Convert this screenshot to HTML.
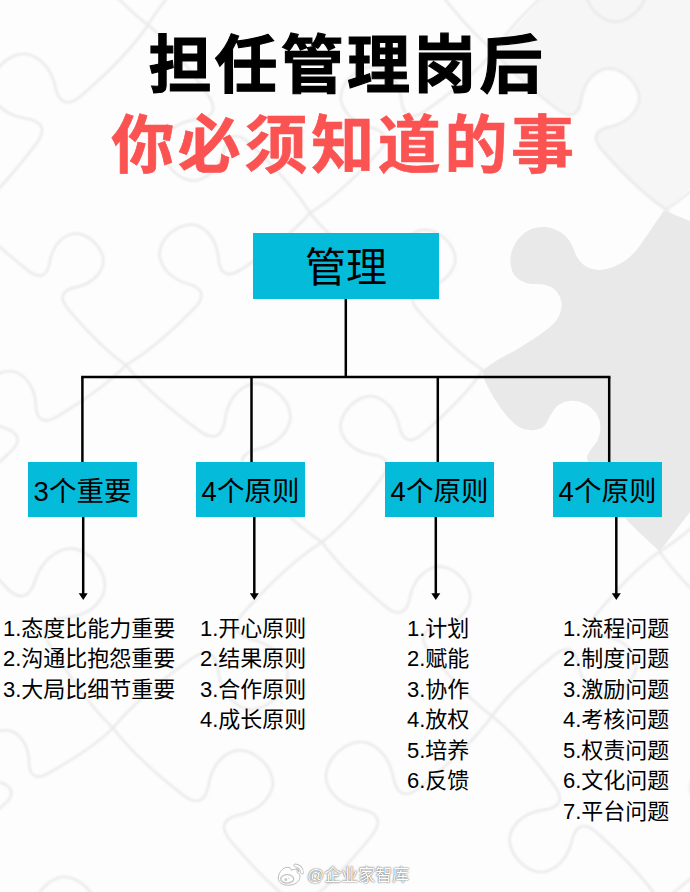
<!DOCTYPE html>
<html lang="zh-CN">
<head>
<meta charset="utf-8">
<title>担任管理岗后你必须知道的事</title>
<style>
html,body{margin:0;padding:0;}
body{width:690px;height:892px;position:relative;overflow:hidden;background:#fdfdfd;
  font-family:"Liberation Sans","Noto Sans CJK SC",sans-serif;color:#000;}
#bg{position:absolute;left:0;top:0;width:690px;height:892px;}
.t{position:absolute;white-space:nowrap;line-height:1;}
.title{font-weight:700;font-size:63px;letter-spacing:3.2px;left:0;width:690px;text-align:center;}
#t1{top:34px;color:#000;left:2px;-webkit-text-stroke:1.1px #000;}
#t2{top:114px;color:#fb5252;left:-0.5px;letter-spacing:3.65px;-webkit-text-stroke:0.7px #fb5252;}
.box{position:absolute;background:#05bbda;display:flex;align-items:center;justify-content:center;
  white-space:nowrap;}
#root{left:253px;top:233px;width:186px;height:66px;font-size:41px;padding-bottom:4px;box-sizing:border-box;}
.b{top:462.2px;height:55px;width:109px;font-size:27.5px;padding-bottom:2px;box-sizing:border-box;}
#b1{left:28px;}#b2{left:196px;}#b3{left:385px;}#b4{left:553px;}
.list{position:absolute;top:613.7px;font-size:22px;line-height:30.5px;white-space:nowrap;}
#l1{left:3px;}#l2{left:200px;}#l3{left:407px;}#l4{left:563px;}
#wm{left:307px;top:867px;font-size:17px;color:#fff;text-shadow:0 0 2px rgba(0,0,0,.55),0 0 1px rgba(0,0,0,.5);}
</style>
</head>
<body>
<svg id="bg" viewBox="0 0 690 892">
  <rect width="690" height="892" fill="#fdfdfd"/>
  <!-- grey puzzle piece -->
  <path id="cell2" fill="#f6f6f6" d="M494.0,51.0 C511.5,73.5 537.1,93.9 555.9,108.1 C570.5,119.9 577.7,115.4 580.6,103.7 C582.4,87.9 589.3,75.2 602.4,69.7 C619.5,63.3 643.6,85.4 638.5,103.0 C634.1,116.5 622.0,124.4 606.4,127.5 C594.9,131.3 591.1,138.9 604.1,152.4 C619.7,170.0 642.2,193.9 666.0,209.5 L845.0,50.0 L666.0,-136.0 Z"/>
  <path id="piece" fill="#e9e9e9" d="M700,225 L664.0,210.4 C661.7,213.7 655.2,223.3 650.4,230.2 C645.6,237.0 640.3,245.9 635.2,251.5 C630.1,257.1 625.6,260.6 620.0,263.7 C614.4,266.8 607.3,269.3 601.7,269.8 C596.1,270.3 590.5,268.7 586.5,266.7 C582.5,264.7 579.9,261.4 577.4,257.6 C574.9,253.8 573.8,248.0 571.3,243.9 C568.8,239.8 566.2,236.1 562.2,233.3 C558.2,230.5 552.6,227.7 547.0,227.2 C541.4,226.7 534.0,227.4 528.7,230.2 C523.4,233.0 518.0,238.8 515.0,243.9 C511.9,249.0 510.4,255.3 510.4,260.6 C510.4,265.9 511.9,272.1 515.0,275.9 C518.0,279.7 523.6,282.0 528.7,283.5 C533.8,285.0 540.8,283.7 545.4,285.0 C550.0,286.3 553.4,288.0 556.1,291.1 C558.8,294.2 561.4,299.2 561.6,303.8 C561.9,308.4 560.3,314.0 557.6,318.5 C554.9,323.0 551.2,326.0 545.4,330.6 C539.6,335.2 530.5,341.1 522.6,345.9 C514.8,350.7 504.9,355.6 498.3,359.6 C491.7,363.7 485.6,368.4 483.0,370.2 C483.3,371.8 482.6,375.1 484.6,380.0 C486.6,384.9 491.4,393.7 495.2,399.8 C499.0,405.9 503.3,411.9 507.4,416.5 C511.5,421.1 515.3,424.9 519.6,427.2 C523.9,429.5 529.2,430.3 533.3,430.2 C537.3,430.1 541.0,428.8 543.9,426.3 C546.8,423.8 548.2,418.6 550.6,415.0 C553.0,411.4 555.0,407.4 558.5,405.0 C562.0,402.6 566.9,400.9 571.3,400.7 C575.7,400.5 580.8,401.6 585.0,403.7 C589.2,405.8 593.7,409.6 596.3,413.5 C598.9,417.4 600.4,422.6 600.5,427.2 C600.6,431.8 599.0,436.8 597.2,440.9 C595.4,444.9 591.1,448.1 589.6,451.5 C588.1,454.9 585.9,455.2 588.0,461.6 C590.1,468.0 595.7,480.4 602.0,490.0 C608.3,499.6 619.2,511.3 626.0,519.0 C632.8,526.7 637.4,530.6 643.0,536.0 C648.6,541.4 656.8,548.8 659.6,551.4 L700,499 Z"/>
  <defs><filter id="soft2"><feGaussianBlur stdDeviation="0.35"/></filter><filter id="soft" x="-5%" y="-5%" width="110%" height="110%"><feGaussianBlur stdDeviation="0.9"/></filter></defs>
  <path id="grid" fill="none" stroke="#e9e9e9" stroke-width="2.4" stroke-linecap="round" filter="url(#soft)" d="M-241.0,1010.0 C-222.5,987.2 -195.5,966.6 -175.8,952.4 C-160.6,940.5 -153.2,945.2 -150.5,957.4 C-148.9,973.7 -142.0,987.0 -128.7,993.0 C-111.2,1000.0 -85.8,977.6 -90.7,959.4 C-95.0,945.4 -107.3,936.9 -123.3,933.4 C-135.0,929.2 -138.8,921.3 -125.2,907.6 C-108.7,889.8 -84.9,865.6 -60.0,850.0 M-239.0,664.0 C-220.5,641.2 -193.5,620.6 -173.8,606.4 C-158.6,594.5 -151.2,599.2 -148.5,611.4 C-146.9,627.7 -140.0,641.0 -126.7,647.0 C-109.2,654.0 -83.8,631.6 -88.7,613.4 C-93.0,599.4 -105.3,590.9 -121.3,587.4 C-133.0,583.2 -136.8,575.3 -123.2,561.6 C-106.7,543.8 -82.9,519.6 -58.0,504.0 M-239.0,664.0 C-213.8,682.7 -190.6,710.6 -174.6,731.0 C-161.2,746.7 -165.9,754.9 -178.7,758.3 C-196.1,760.7 -210.0,768.6 -215.7,783.1 C-222.5,802.2 -197.4,828.2 -178.1,822.2 C-163.4,817.0 -155.0,803.5 -151.9,786.2 C-148.0,773.5 -139.7,769.1 -124.4,783.0 C-104.7,799.9 -77.8,824.1 -60.0,850.0 M-60.0,850.0 C-36.8,838.8 -13.8,820.0 2.3,806.1 C15.5,795.5 13.0,788.2 3.2,783.4 C-10.5,778.8 -20.4,770.3 -22.8,757.7 C-25.3,741.3 -1.0,724.2 13.6,732.1 C24.6,738.5 29.3,750.8 29.1,765.1 C30.3,776.0 36.3,780.8 50.7,771.9 C69.2,761.5 94.7,746.1 113.0,728.0 M-60.0,850.0 C-42.2,875.9 -15.3,900.1 4.4,917.0 C19.7,930.9 28.0,926.5 31.9,913.8 C35.0,896.5 43.4,883.0 58.1,877.8 C77.4,871.8 102.5,897.8 95.7,916.9 C90.0,931.4 76.1,939.3 58.7,941.7 C45.9,945.1 41.2,953.3 54.6,969.0 C70.6,989.4 93.8,1017.3 119.0,1036.0 M119.0,1036.0 C138.2,1017.0 164.8,1000.9 184.2,989.9 C199.3,980.6 205.6,985.6 206.8,997.0 C206.6,1012.1 211.6,1024.8 223.1,1031.6 C238.4,1039.8 263.8,1021.9 261.1,1004.7 C258.6,991.6 248.2,982.6 234.0,977.8 C223.7,972.8 221.0,965.2 234.8,954.1 C251.7,939.5 275.7,919.7 300.0,908.0 M-237.0,318.0 C-214.2,301.5 -184.2,289.2 -162.5,280.9 C-145.4,273.7 -139.7,279.9 -140.3,291.8 C-142.9,307.3 -139.8,321.3 -129.0,330.1 C-114.5,341.0 -85.5,326.6 -85.5,308.5 C-86.0,294.5 -95.3,283.6 -109.2,276.4 C-119.0,269.6 -120.6,261.4 -104.5,252.1 C-84.8,239.7 -56.9,223.2 -30.0,215.0 M-237.0,318.0 C-211.8,336.7 -188.6,364.6 -172.6,385.0 C-159.2,400.7 -163.9,408.9 -176.7,412.3 C-194.1,414.7 -208.0,422.6 -213.7,437.1 C-220.5,456.2 -195.4,482.2 -176.1,476.2 C-161.4,471.0 -153.0,457.4 -149.9,440.2 C-146.0,427.5 -137.7,423.1 -122.4,437.0 C-102.7,453.8 -75.8,478.1 -58.0,504.0 M-58.0,504.0 C-33.1,491.0 -8.8,469.7 8.2,454.0 C22.3,441.9 19.2,434.1 8.4,429.3 C-6.6,424.7 -17.7,415.8 -20.8,402.2 C-24.1,384.4 1.7,365.0 17.9,373.0 C30.1,379.6 35.7,392.8 36.0,408.4 C37.6,420.2 44.3,425.2 59.8,415.0 C79.5,403.0 106.7,385.4 126.0,365.0 M-58.0,504.0 C-42.0,534.3 -15.8,564.0 3.6,584.6 C18.4,601.7 27.9,598.0 33.7,584.7 C39.2,566.3 50.1,552.7 66.7,548.9 C88.3,544.7 112.3,576.1 102.6,595.9 C94.5,610.9 78.5,617.8 59.4,618.3 C45.0,620.4 38.9,628.6 51.4,647.4 C66.3,671.5 88.0,704.5 113.0,728.0 M113.0,728.0 C134.4,701.5 165.5,677.5 188.2,661.0 C205.9,647.2 214.5,652.7 217.6,666.7 C219.5,685.6 227.5,701.0 243.0,707.8 C263.3,715.9 292.6,689.9 286.9,668.8 C281.9,652.6 267.6,642.9 249.0,638.8 C235.4,634.1 231.0,624.9 246.8,609.0 C265.8,588.3 293.2,560.1 322.0,542.0 M113.0,728.0 C131.8,753.3 159.8,776.7 180.3,792.8 C196.2,806.3 204.3,801.5 207.8,788.6 C210.2,771.1 218.2,757.2 232.8,751.4 C251.9,744.6 278.1,769.8 272.0,789.2 C266.8,804.0 253.2,812.5 235.8,815.6 C223.1,819.5 218.6,827.9 232.7,843.2 C249.6,863.1 274.0,890.1 300.0,908.0 M300.0,908.0 C326.9,888.8 351.8,860.0 369.1,838.9 C383.5,822.6 378.7,813.9 365.3,810.1 C347.0,807.2 332.6,798.6 326.9,783.2 C320.2,763.0 347.0,736.2 367.2,742.9 C382.6,748.6 391.2,763.0 394.1,781.3 C397.9,794.7 406.6,799.5 422.9,785.1 C444.0,767.8 472.8,742.9 492.0,716.0 M300.0,908.0 C318.4,930.1 345.0,949.8 364.4,963.4 C379.5,974.9 386.7,970.1 389.2,958.2 C390.5,942.2 397.0,929.2 410.0,923.2 C427.0,916.0 452.1,937.6 447.6,955.5 C443.6,969.2 431.6,977.7 416.0,981.3 C404.6,985.5 401.0,993.3 414.6,1006.6 C430.9,1023.8 454.4,1047.1 479.0,1062.0 M479.0,1062.0 C497.5,1039.2 524.5,1018.6 544.2,1004.4 C559.4,992.5 566.9,997.2 569.5,1009.4 C571.1,1025.7 578.0,1039.0 591.3,1045.0 C608.8,1052.0 634.2,1029.6 629.3,1011.4 C625.0,997.4 612.7,988.9 596.7,985.4 C584.9,981.2 581.2,973.3 594.8,959.6 C611.3,941.8 635.1,917.6 660.0,902.0 M-235.0,-28.0 C-216.5,-50.8 -189.5,-71.4 -169.8,-85.6 C-154.6,-97.5 -147.2,-92.8 -144.5,-80.6 C-142.9,-64.3 -136.0,-51.0 -122.7,-45.0 C-105.2,-38.0 -79.8,-60.4 -84.7,-78.6 C-89.0,-92.6 -101.3,-101.1 -117.3,-104.6 C-129.0,-108.8 -132.8,-116.7 -119.2,-130.4 C-102.7,-148.2 -78.9,-172.4 -54.0,-188.0 M-235.0,-28.0 C-205.5,-2.9 -179.3,33.1 -161.2,59.5 C-146.0,79.9 -152.5,89.6 -168.5,92.7 C-190.1,94.3 -207.8,102.9 -216.0,120.3 C-225.8,143.1 -197.1,177.1 -172.9,171.3 C-154.4,166.1 -142.9,150.1 -137.8,129.2 C-132.0,113.9 -121.4,109.1 -103.8,127.5 C-80.9,149.8 -49.7,181.7 -30.0,215.0 M-30.0,215.0 C-4.8,195.8 18.2,167.4 34.1,146.6 C47.4,130.5 42.5,122.4 29.5,119.1 C11.9,116.9 -2.1,109.1 -8.1,94.6 C-15.2,75.5 9.7,48.9 29.2,54.7 C44.1,59.7 52.9,73.2 56.2,90.6 C60.3,103.4 68.7,107.7 83.9,93.4 C103.6,76.2 130.4,51.4 148.0,25.0 M-30.0,215.0 C-14.3,236.1 9.1,255.6 26.2,269.0 C39.4,280.2 46.2,276.3 49.0,265.5 C51.1,250.9 57.7,239.3 69.9,234.5 C85.8,228.8 107.7,249.8 102.6,266.0 C98.3,278.3 86.9,285.4 72.4,288.0 C61.8,291.3 58.1,298.2 69.8,311.0 C83.9,327.6 104.3,350.1 126.0,365.0 M126.0,365.0 C151.1,350.4 175.4,327.3 192.2,310.3 C206.2,297.2 202.7,289.2 191.3,284.8 C175.6,280.7 163.7,272.0 159.9,258.0 C155.7,239.8 181.5,218.6 198.6,226.1 C211.5,232.4 217.9,245.8 218.9,262.0 C221.1,274.0 228.3,279.0 243.8,267.7 C263.7,254.4 291.0,234.9 310.0,213.0 M126.0,365.0 C146.0,390.2 175.2,413.0 196.6,428.7 C213.1,441.9 221.3,436.8 224.3,423.6 C226.2,405.7 233.9,391.3 248.6,384.9 C267.8,377.4 295.2,402.2 289.7,422.1 C284.9,437.3 271.3,446.4 253.7,450.1 C240.9,454.5 236.6,463.1 251.4,478.3 C269.3,497.9 294.9,524.7 322.0,542.0 M322.0,542.0 C344.8,524.6 365.6,498.9 380.0,480.1 C392.0,465.5 387.6,458.2 375.8,455.2 C359.9,453.2 347.2,446.2 341.7,433.0 C335.3,415.7 357.9,391.6 375.5,396.9 C389.0,401.4 396.9,413.7 400.0,429.4 C403.7,441.0 411.3,444.9 425.0,431.9 C442.9,416.3 467.1,393.9 483.0,370.0 M322.0,542.0 C338.9,566.3 364.5,588.9 383.2,604.6 C397.7,617.7 405.5,613.5 409.0,601.5 C411.8,585.2 419.7,572.4 433.5,567.4 C451.7,561.6 475.4,585.9 469.2,603.9 C463.9,617.6 450.9,625.2 434.5,627.6 C422.5,630.9 418.1,638.6 430.8,653.4 C446.1,672.5 468.1,698.5 492.0,716.0 M492.0,716.0 C508.8,692.9 533.9,671.5 552.3,656.7 C566.6,644.4 574.0,648.6 577.2,660.3 C579.6,676.1 586.9,688.6 600.2,693.7 C617.6,699.7 641.0,676.6 635.4,659.2 C630.5,645.8 618.1,638.2 602.4,635.6 C590.8,632.2 586.7,624.7 599.3,610.7 C614.4,592.5 636.2,567.8 659.6,551.4 M492.0,716.0 C515.9,735.0 537.5,762.7 552.5,783.0 C565.0,798.7 560.2,806.4 547.6,809.3 C530.6,811.1 517.0,818.4 510.9,832.3 C503.8,850.6 527.3,876.6 546.2,871.4 C560.6,866.8 569.3,853.9 572.8,837.2 C577.0,825.0 585.2,821.0 599.5,835.0 C618.2,852.0 643.6,876.3 660.0,902.0 M660.0,902.0 C684.9,886.4 708.7,862.2 725.2,844.4 C738.8,830.7 735.1,822.8 723.3,818.6 C707.3,815.1 695.0,806.6 690.7,792.6 C685.8,774.4 711.2,752.0 728.7,759.0 C742.0,765.0 748.9,778.3 750.5,794.6 C753.1,806.8 760.6,811.5 775.8,799.6 C795.5,785.4 822.5,764.8 841.0,742.0 M660.0,902.0 C677.8,927.9 704.7,952.1 724.4,969.0 C739.7,982.9 748.0,978.5 751.9,965.8 C755.0,948.5 763.4,935.0 778.1,929.8 C797.4,923.8 822.5,949.8 815.7,968.9 C810.0,983.4 796.1,991.3 778.7,993.7 C765.9,997.1 761.2,1005.3 774.6,1021.0 C790.6,1041.4 813.8,1069.3 839.0,1088.0 M-54.0,-188.0 C-34.0,-158.4 -3.6,-130.6 18.7,-111.3 C35.9,-95.3 45.4,-100.2 50.0,-114.6 C53.6,-134.3 63.3,-149.6 80.1,-155.4 C102.1,-162.1 130.4,-132.2 122.5,-110.6 C115.9,-94.2 100.1,-85.3 80.3,-82.7 C65.6,-78.9 60.2,-69.7 75.3,-51.7 C93.3,-28.4 119.5,3.5 148.0,25.0 M148.0,25.0 C163.2,-0.6 187.2,-25.2 204.9,-42.3 C218.5,-56.5 226.6,-52.8 231.0,-41.0 C235.0,-24.9 243.9,-12.6 258.1,-8.6 C276.7,-4.1 298.8,-30.2 291.3,-47.8 C284.9,-61.2 271.4,-67.9 254.7,-69.1 C242.4,-71.5 237.4,-78.9 249.1,-94.7 C263.1,-115.0 283.3,-142.7 306.0,-162.0 M148.0,25.0 C171.2,44.3 192.0,72.3 206.3,92.7 C218.3,108.5 213.4,116.1 200.9,118.7 C184.1,120.1 170.3,127.0 164.1,140.6 C156.6,158.5 179.2,184.8 198.1,180.1 C212.5,175.8 221.3,163.3 225.2,146.9 C229.6,134.9 237.8,131.1 251.7,145.3 C269.8,162.5 294.3,187.2 310.0,213.0 M310.0,213.0 C335.3,197.2 359.5,172.7 376.2,154.7 C390.1,140.8 386.3,132.7 374.4,128.5 C358.2,124.9 345.7,116.3 341.4,102.1 C336.5,83.5 362.2,60.9 380.0,68.1 C393.5,74.1 400.5,87.6 402.0,104.2 C404.7,116.5 412.2,121.4 427.8,109.3 C447.8,95.0 475.2,74.1 494.0,51.0 M310.0,213.0 C327.6,235.3 353.4,255.5 372.3,269.5 C386.9,281.2 394.1,276.7 396.9,265.0 C398.6,249.2 405.4,236.5 418.4,230.9 C435.4,224.3 459.6,246.3 454.7,263.9 C450.4,277.3 438.4,285.3 422.8,288.6 C411.4,292.4 407.7,300.1 420.7,313.5 C436.4,330.9 459.1,354.6 483.0,370.0 M659.6,551.4 C684.7,536.4 708.8,512.8 725.6,495.5 C739.5,482.1 735.9,474.1 724.3,469.8 C708.5,465.9 696.4,457.2 692.4,443.2 C688.0,425.0 713.6,403.2 730.9,410.6 C744.1,416.8 750.6,430.2 751.8,446.5 C754.3,458.6 761.5,463.5 777.0,451.9 C796.9,438.2 824.1,418.3 843.0,396.0 M659.6,551.4 C677.6,577.9 704.9,602.8 724.9,620.0 C740.4,634.4 748.9,629.9 752.9,617.0 C756.1,599.4 764.8,585.6 779.9,580.4 C799.5,574.4 824.9,601.1 818.0,620.5 C812.0,635.2 797.8,643.2 780.1,645.6 C767.0,649.0 762.1,657.2 775.7,673.4 C791.9,694.3 815.4,722.8 841.0,742.0 M306.0,-162.0 C324.3,-132.7 352.8,-104.7 373.7,-85.3 C389.8,-69.2 399.1,-73.7 404.0,-87.5 C408.2,-106.3 418.2,-120.8 434.6,-125.8 C456.1,-131.5 482.4,-101.7 474.1,-81.1 C467.0,-65.4 451.4,-57.3 432.2,-55.5 C417.9,-52.4 412.3,-43.7 426.3,-25.7 C443.0,-2.5 467.2,29.2 494.0,51.0 M494.0,51.0 C510.9,25.1 536.9,0.7 555.9,-16.3 C570.6,-30.4 578.9,-26.3 583.0,-13.9 C586.4,3.1 595.0,16.2 609.6,21.0 C628.7,26.5 652.8,0.3 645.7,-18.3 C639.8,-32.4 626.0,-39.9 608.8,-41.9 C596.1,-45.0 591.3,-52.9 604.1,-68.7 C619.4,-89.1 641.6,-117.0 666.0,-136.0 M494.0,51.0 C511.5,73.5 537.1,93.9 555.9,108.1 C570.5,119.9 577.7,115.4 580.6,103.7 C582.4,87.9 589.3,75.2 602.4,69.7 C619.5,63.3 643.6,85.4 638.5,103.0 C634.1,116.5 622.0,124.4 606.4,127.5 C594.9,131.3 591.1,138.9 604.1,152.4 C619.7,170.0 642.2,193.9 666.0,209.5 M666.0,209.5 C690.7,193.9 714.1,169.8 730.4,152.1 C744.0,138.4 740.2,130.6 728.5,126.5 C712.6,123.0 700.3,114.7 696.0,100.9 C691.1,82.7 716.2,60.4 733.6,67.4 C746.9,73.2 753.8,86.3 755.4,102.6 C758.1,114.6 765.4,119.3 780.6,107.4 C800.1,93.3 826.7,72.7 845.0,50.0 M666.0,209.5 C683.5,235.4 710.2,259.8 729.7,276.6 C744.8,290.7 753.1,286.3 757.1,273.7 C760.3,256.5 768.8,243.1 783.5,238.0 C802.7,232.2 827.5,258.3 820.6,277.2 C814.8,291.6 801.0,299.4 783.6,301.7 C770.8,305.0 766.1,313.1 779.3,328.9 C795.1,349.3 818.0,377.2 843.0,396.0 M666.0,-136.0 C683.8,-110.1 710.7,-85.8 730.4,-69.0 C745.7,-55.1 754.0,-59.5 757.9,-72.2 C761.0,-89.5 769.4,-103.0 784.1,-108.2 C803.4,-114.2 828.5,-88.2 821.7,-69.1 C816.0,-54.6 802.1,-46.7 784.7,-44.3 C771.9,-40.9 767.2,-32.7 780.6,-17.0 C796.6,3.4 819.8,31.3 845.0,50.0"/>
  <!-- weibo watermark logo -->
  <g id="wb" filter="url(#soft2)" stroke-linecap="round" stroke-linejoin="round">
    <path d="M289,867.5 C284,866 278.5,872 278.3,878 C278.2,883 283,885.2 288.5,885.2 C295,885.2 300,881.5 300,876.5 C300,874 298,873 297,872.5 C297.5,871 297.3,869.5 295.5,869.3 C294,869.2 292,870 291,870.3 C291.3,868.8 290.5,867.8 289,867.5 Z" fill="#fff" stroke="#bcbcbc" stroke-width="1"/>
    <ellipse cx="287.2" cy="878.9" rx="6.5" ry="4.2" fill="#fff" stroke="#c4c4c4" stroke-width="1.3"/>
    <circle cx="285.8" cy="879.6" r="1.5" fill="#c9c9c9"/>
    <circle cx="288.9" cy="878.2" r="0.6" fill="#c9c9c9"/>
    <path d="M296.2,868.9 A2.7,2.7 0 0 1 298.8,871.7" fill="none" stroke="#bcbcbc" stroke-width="1.3"/>
    <path d="M295.2,865.4 A7,7 0 0 1 302,872.6" fill="none" stroke="#bcbcbc" stroke-width="3.6"/>
    <path d="M295.2,865.4 A7,7 0 0 1 302,872.6" fill="none" stroke="#fff" stroke-width="2"/>
  </g>
  <!-- connectors -->
  <g stroke="#000" stroke-width="2.5" fill="none">
    <line x1="345.8" y1="298" x2="345.8" y2="377"/>
    <line x1="81.15" y1="377.1" x2="610.45" y2="377.1"/>
    <line x1="82.4" y1="377" x2="82.4" y2="463"/>
    <line x1="251.5" y1="377" x2="251.5" y2="463"/>
    <line x1="437.8" y1="377" x2="437.8" y2="463"/>
    <line x1="609.2" y1="377" x2="609.2" y2="463"/>
    <line x1="83.2" y1="517" x2="83.2" y2="595"/>
    <line x1="254.3" y1="517" x2="254.3" y2="595"/>
    <line x1="435.8" y1="517" x2="435.8" y2="595"/>
    <line x1="616.3" y1="517" x2="616.3" y2="595"/>
  </g>
  <g fill="#000">
    <path d="M78.7,593.3 L87.7,593.3 L83.2,600 Z"/>
    <path d="M249.8,593.3 L258.8,593.3 L254.3,600 Z"/>
    <path d="M431.3,593.3 L440.3,593.3 L435.8,600 Z"/>
    <path d="M611.8,593.3 L620.8,593.3 L616.3,600 Z"/>
  </g>
</svg>

<div class="t title" id="t1">担任管理岗后</div>
<div class="t title" id="t2">你必须知道的事</div>

<div class="box" id="root">管理</div>
<div class="box b" id="b1">3个重要</div>
<div class="box b" id="b2">4个原则</div>
<div class="box b" id="b3">4个原则</div>
<div class="box b" id="b4">4个原则</div>

<div class="list" id="l1">1.态度比能力重要<br>2.沟通比抱怨重要<br>3.大局比细节重要</div>
<div class="list" id="l2">1.开心原则<br>2.结果原则<br>3.合作原则<br>4.成长原则</div>
<div class="list" id="l3">1.计划<br>2.赋能<br>3.协作<br>4.放权<br>5.培养<br>6.反馈</div>
<div class="list" id="l4">1.流程问题<br>2.制度问题<br>3.激励问题<br>4.考核问题<br>5.权责问题<br>6.文化问题<br>7.平台问题</div>

<div class="t" id="wm">@企业家智库</div>
</body>
</html>
